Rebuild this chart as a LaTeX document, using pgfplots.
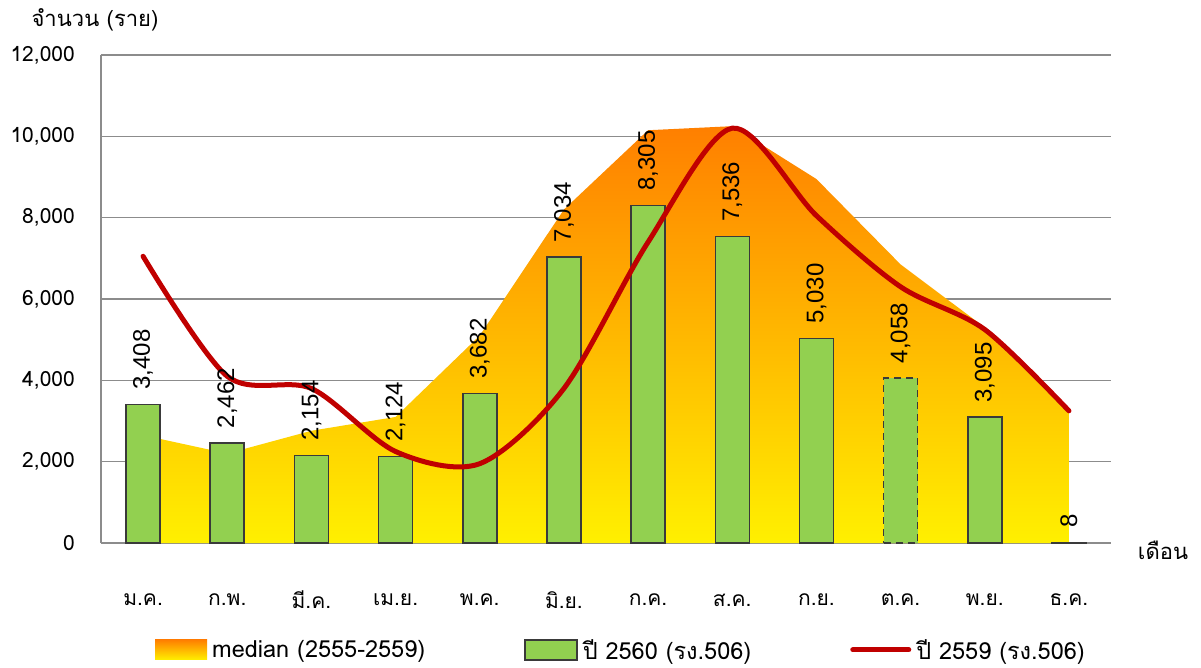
\documentclass[border=0pt]{standalone}
\usepackage{pgfplots}
\pgfplotsset{compat=1.18}
\usepackage{fontspec}
\setmainfont[Script=Thai]{Loma}
\newfontfamily\arialfont{Liberation Sans}
\definecolor{bargreen}{HTML}{92D050}
\definecolor{lnred}{HTML}{C00000}
\definecolor{medtop}{HTML}{FF7F00}
\definecolor{medbot}{HTML}{FFF000}
\definecolor{gridgray}{HTML}{8C8C8C}
\definecolor{baredge}{HTML}{3A3A3A}

\begin{document}
\begin{tikzpicture}
\path[use as bounding box] (-101pt,-124pt) rectangle (1100pt,543pt);
\begin{axis}[
  at={(0,0)}, anchor=south west,
  scale only axis, width=1010pt, height=488pt,
  xmin=-0.5, xmax=11.5, ymin=0, ymax=12000,
  axis x line=bottom, axis y line=left,
  axis line style={-, draw=gridgray, line width=2pt},
  ymajorgrids, grid style={draw=gridgray, line width=1.6pt},
  major tick length=0pt,
  xtick={0,...,11},
  xticklabels={ม.ค.,ก.พ.,มี.ค.,เม.ย.,พ.ค.,มิ.ย.,ก.ค.,ส.ค.,ก.ย.,ต.ค.,พ.ย.,ธ.ค.},
  ytick={0,2000,...,12000},
  scaled y ticks=false,
  /pgf/number format/assume math mode=true,
  /pgf/number format/1000 sep={,},
  tick label style={font=\fontsize{21}{25}\selectfont},
  xticklabel style={anchor=center, yshift=-57pt},
  yticklabel style={anchor=east, inner sep=0pt, xshift=-26pt},
  legend columns=3,
  legend style={at={(axis description cs:0.0535,-0.219)}, anchor=west,
    draw=none, fill=none, inner sep=0pt,
    font=\fontsize{23.5}{26}\selectfont,
    nodes={inner sep=0pt},
    /tikz/every odd column/.append style={column sep=5pt},
    /tikz/every even column/.append style={column sep=99pt}},
  legend cell align=left,
  every node near coord/.append style={font=\arialfont\fontsize{24}{28}\selectfont,
    text=black, rotate=90, anchor=west, inner xsep=14pt, inner ysep=0pt},
]
% median 2555-2559
\addplot[draw=none, top color=medtop, bottom color=medbot,
  legend image code/.code={\shade[top color=medtop, bottom color=medbot] (0pt,-10pt) rectangle (52pt,10pt);}]
  coordinates {(0,2650) (1,2200) (2,2760) (3,3100) (4,5100) (5,8200)
    (6,10150) (7,10250) (8,8950) (9,6850) (10,5300) (11,3200)} \closedcycle;
\addlegendentry{median (2555-2559)}

% 2560
\addplot[ybar, bar width=34pt, fill=bargreen, draw=baredge, line width=1.5pt,
  nodes near coords,
  legend image code/.code={\draw[fill=bargreen, draw=baredge, line width=1.5pt] (0pt,-10pt) rectangle (52pt,10pt);}]
  coordinates {(0,3408) (1,2462) (2,2154) (3,2124) (4,3682) (5,7034)
    (6,8305) (7,7536) (8,5030) (10,3095) (11,8)};
\addlegendentry{ปี 2560 (รง.506)}

\addplot[ybar, bar width=34pt, fill=bargreen, draw=baredge, line width=1.5pt,
  dash pattern=on 7pt off 5pt, nodes near coords, forget plot]
  coordinates {(9,4058)};

% 2559
\addplot[lnred, line width=5pt, line cap=round, smooth,
  legend image code/.code={\draw[lnred, line width=5pt] (0pt,0pt) -- (56pt,0pt);}]
  coordinates {(0,7050) (1,4100) (2,3800) (3,2250) (4,1950) (5,3800)
    (6,7400) (7,10200) (8,8050) (9,6300) (10,5250) (11,3250)};
\addlegendentry{ปี 2559 (รง.506)}
\end{axis}
\node[font=\fontsize{22}{26}\selectfont] at (-6pt,523pt) {จำนวน (ราย)};
\node[font=\fontsize{22}{26}\selectfont] at (1062pt,-7pt) {เดือน};
\end{tikzpicture}
\end{document}
